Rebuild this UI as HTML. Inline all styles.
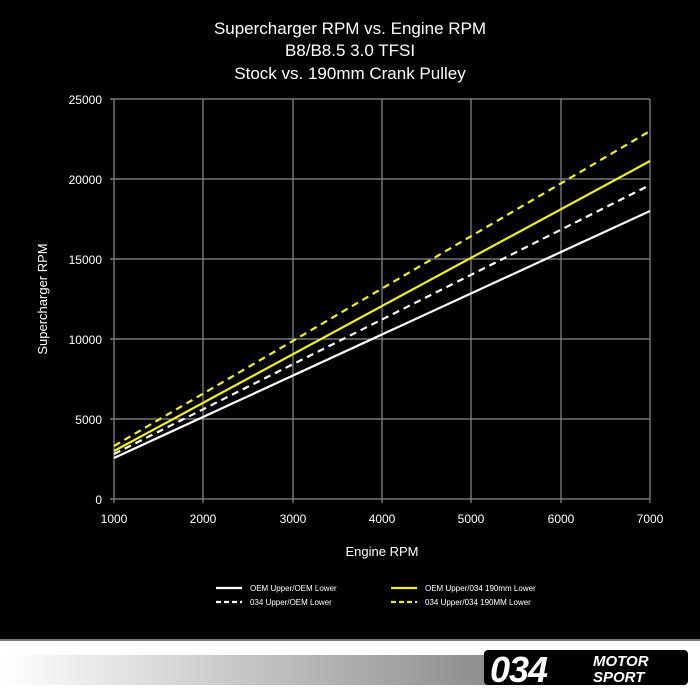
<!DOCTYPE html>
<html><head><meta charset="utf-8"><style>
html,body{margin:0;padding:0;width:700px;height:700px;overflow:hidden;background:#fff;}
</style></head><body>
<svg width="700" height="700" xmlns="http://www.w3.org/2000/svg" font-family="Liberation Sans, sans-serif">
<defs><linearGradient id="g" x1="0" x2="1"><stop offset="0" stop-color="#fff"/><stop offset="1" stop-color="#8a8a8a"/></linearGradient></defs>
<rect width="700" height="640" fill="#000"/>
<rect y="639" width="700" height="2" fill="#777"/>
<rect x="0" y="655" width="500" height="30" fill="url(#g)"/>
<g fill="#fff" text-anchor="middle" font-size="17">
<text x="350" y="34">Supercharger RPM vs. Engine RPM</text>
<text x="350" y="56">B8/B8.5 3.0 TFSI</text>
<text x="350" y="79">Stock vs. 190mm Crank Pulley</text>
</g>
<g stroke="#8c8c8c" stroke-width="1.2">
<line x1="110" y1="99" x2="650" y2="99"/><line x1="110" y1="179" x2="650" y2="179"/>
<line x1="110" y1="259" x2="650" y2="259"/><line x1="110" y1="339" x2="650" y2="339"/>
<line x1="110" y1="419" x2="650" y2="419"/><line x1="110" y1="499" x2="650" y2="499"/>
<line x1="114" y1="99" x2="114" y2="503"/><line x1="203" y1="99" x2="203" y2="503"/>
<line x1="293" y1="99" x2="293" y2="503"/><line x1="382" y1="99" x2="382" y2="503"/>
<line x1="471" y1="99" x2="471" y2="503"/><line x1="561" y1="99" x2="561" y2="503"/>
<line x1="650" y1="99" x2="650" y2="503"/>
</g>
<g fill="#fff" font-size="12" text-anchor="end">
<text x="102" y="104">25000</text><text x="102" y="184">20000</text><text x="102" y="264">15000</text>
<text x="102" y="344">10000</text><text x="102" y="424">5000</text><text x="102" y="504">0</text>
</g>
<g fill="#fff" font-size="12" text-anchor="middle">
<text x="114" y="523">1000</text><text x="203" y="523">2000</text><text x="293" y="523">3000</text>
<text x="382" y="523">4000</text><text x="471" y="523">5000</text><text x="561" y="523">6000</text>
<text x="650" y="523">7000</text>
<text x="382" y="556" font-size="13">Engine RPM</text>
</g>
<text transform="translate(47,299) rotate(-90)" fill="#fff" font-size="13" text-anchor="middle">Supercharger RPM</text>
<g stroke-width="2.2" fill="none">
<line x1="114" y1="458" x2="650" y2="211" stroke="#fff"/>
<line x1="114" y1="454" x2="650" y2="185" stroke="#fff" stroke-dasharray="7,5"/>
<line x1="114" y1="451" x2="650" y2="161" stroke="#f0f020"/>
<line x1="114" y1="446" x2="650" y2="131" stroke="#f0f020" stroke-dasharray="7,5"/>
<line x1="216" y1="588" x2="242" y2="588" stroke="#fff"/>
<line x1="216" y1="602" x2="242" y2="602" stroke="#fff" stroke-dasharray="5,3"/>
<line x1="391" y1="588" x2="417" y2="588" stroke="#f0f020"/>
<line x1="391" y1="602" x2="417" y2="602" stroke="#f0f020" stroke-dasharray="5,3"/>
</g>
<g fill="#fff" font-size="8">
<text x="250" y="591">OEM Upper/OEM Lower</text>
<text x="250" y="605">034 Upper/OEM Lower</text>
<text x="425" y="591">OEM Upper/034 190mm Lower</text>
<text x="425" y="605">034 Upper/034 190MM Lower</text>
</g>
<rect x="484" y="650" width="204" height="35" rx="4" fill="#000"/>
<text x="490" y="682" fill="#fff" font-size="36" font-weight="bold" font-style="italic" letter-spacing="-1">034</text>
<text x="593" y="666" fill="#fff" font-size="15" font-weight="bold" font-style="italic">MOTOR</text>
<text x="593" y="682" fill="#fff" font-size="15" font-weight="bold" font-style="italic">SPORT</text>
</svg>
</body></html>
